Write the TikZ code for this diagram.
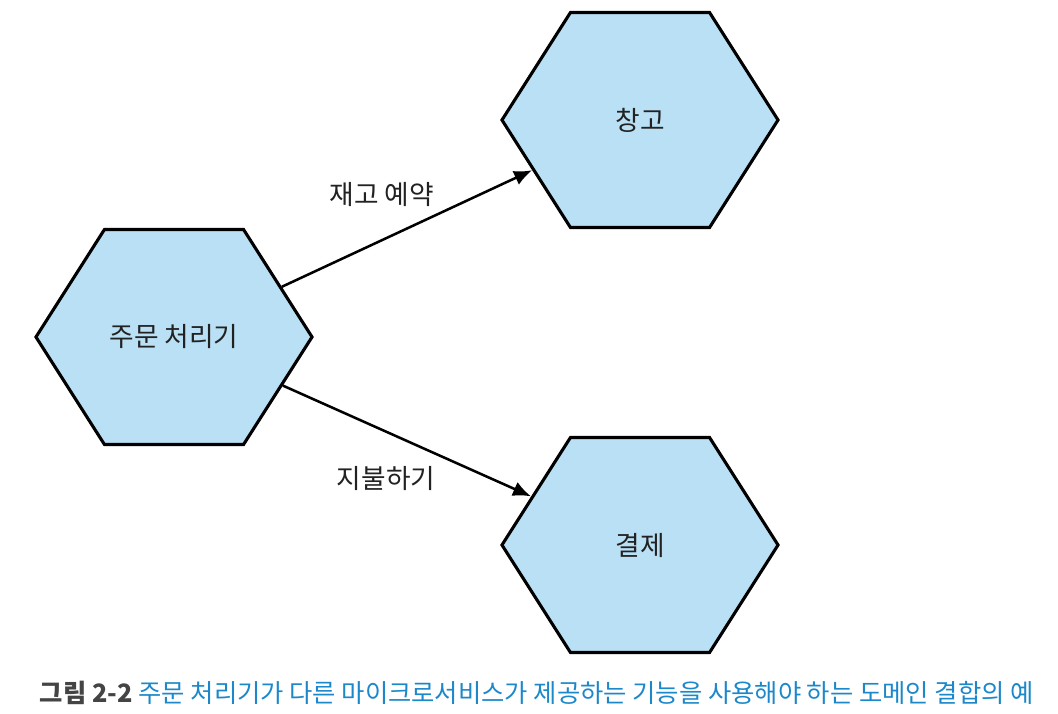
\documentclass[tikz,border=0pt]{standalone}
\usepackage{fontspec}
\setmainfont{Noto Sans CJK KR}
\usetikzlibrary{shapes.symbols,arrows.meta}
\definecolor{hexfill}{HTML}{B9E0F4}
\definecolor{capblue}{HTML}{1C88C9}
\definecolor{capgray}{HTML}{444444}
\definecolor{txt}{HTML}{222222}
\begin{document}
\begin{tikzpicture}[x=.025cm, y=-.025cm,
    hexa/.style = {shape=signal, signal to=west and east, signal pointer angle=115,
      draw, line width=2.2pt, fill=hexfill, minimum width=6.9cm, minimum height=5.375cm,
      inner sep=0pt, text=txt, font=\fontsize{19}{22}\selectfont},
    flow/.style = {-{Latex[length=4.5mm,width=3.8mm]}, line width=1.8pt},
    lbl/.style = {text=txt, font=\fontsize{19}{22}\selectfont}]
  \useasboundingbox (0,0) rectangle (1058,714);
  \node [hexa] (order) at (174,337) {주문 처리기};
  \node [hexa] (store) at (640,120) {창고};
  \node [hexa] (pay) at (640,545) {결제};
  \draw [flow] (order) -- (store);
  \draw [flow] (order) -- (pay);
  \node [lbl] (reserve) at (382,194) {재고 예약};
  \node [lbl] (paying) at (386,478) {지불하기};
  \node [font=\fontsize{18}{21}\selectfont, anchor=west] (caption) at (35,693)
    {\textcolor{capgray}{\bfseries 그림 2-2} \textcolor{capblue}{주문 처리기가 다른 마이크로서비스가 제공하는 기능을 사용해야 하는 도메인 결합의 예}};
\end{tikzpicture}
\end{document}
